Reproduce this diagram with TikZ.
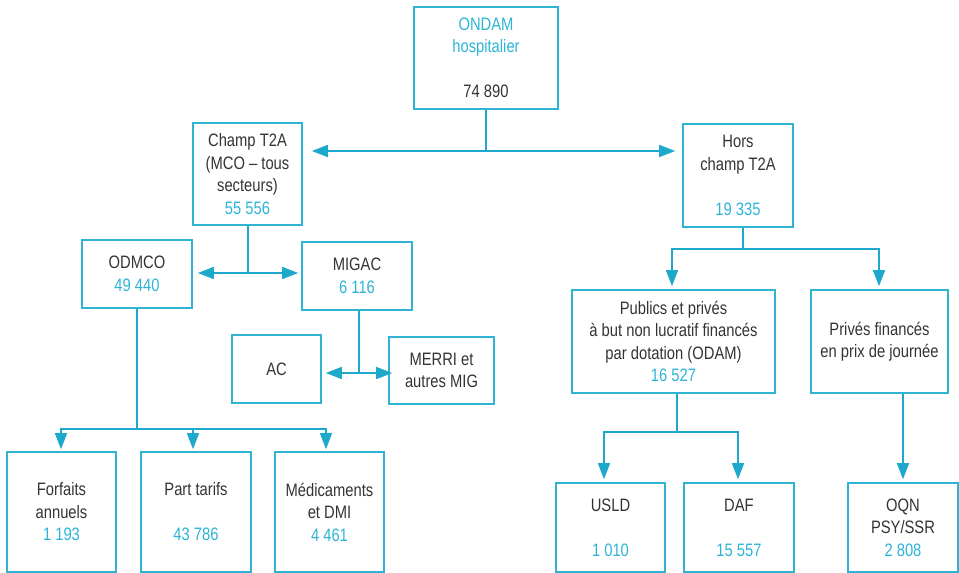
\documentclass[tikz,border=0pt]{standalone}
\usepackage{fontspec}
\setmainfont{Liberation Sans}[FakeStretch=0.82]
\usetikzlibrary{arrows.meta}
\definecolor{cy}{HTML}{2FB3D3}
\definecolor{ln}{HTML}{1DA9CB}
\definecolor{num}{HTML}{2BB4D6}
\definecolor{txt}{HTML}{333333}
\tikzset{
  box/.style={draw=cy, line width=1.6pt, rectangle, align=center, inner sep=0pt,
    text=txt, font=\fontsize{18pt}{22.5pt}\selectfont},
  conn/.style={draw=ln, line width=1.4pt},
  arr/.style={conn, -{Triangle[length=16pt,width=12pt]}},
  dblarr/.style={conn, {Triangle[length=16pt,width=12pt]}-{Triangle[length=16pt,width=12pt]}}
}
\newcommand{\nb}[1]{{\color{num}#1}}
\begin{document}
\begin{tikzpicture}[x=1pt,y=-1pt]
\useasboundingbox (0,0) rectangle (959,573);
% boxes
\node[box, minimum width=144pt, minimum height=102pt] (ondam) at (486,58)
  {\nb{ONDAM}\\\nb{hospitalier}\\[22.5pt]74 890};
\node[box, minimum width=109pt, minimum height=102pt] (champ) at (247.5,174)
  {Champ T2A\\(MCO – tous\\secteurs)\\\nb{55 556}};
\node[box, minimum width=110pt, minimum height=103pt] (hors) at (738,175.5)
  {Hors\\champ T2A\\[22.5pt]\nb{19 335}};
\node[box, minimum width=110pt, minimum height=68pt] (odmco) at (137,274)
  {ODMCO\\\nb{49 440}};
\node[box, minimum width=110pt, minimum height=68pt] (migac) at (357,276)
  {MIGAC\\\nb{6 116}};
\node[box, minimum width=89pt, minimum height=68pt] (ac) at (276.5,369)
  {AC};
\node[box, minimum width=105pt, minimum height=67pt] (merri) at (441.5,370.5)
  {MERRI et\\autres MIG};
\node[box, minimum width=109pt, minimum height=120pt] (forf) at (61.5,512)
  {Forfaits\\annuels\\\nb{1 193}};
\node[box, minimum width=110pt, minimum height=120pt] (part) at (196,512)
  {Part tarifs\\[22.5pt]\nb{43 786}};
\node[box, minimum width=109pt, minimum height=120pt] (medic) at (329.5,512)
  {Médicaments\\et DMI\\\nb{4 461}};
\node[box, minimum width=203pt, minimum height=103pt] (publics) at (673.5,341.5)
  {Publics et privés\\à but non lucratif financés\\par dotation (ODAM)\\\nb{16 527}};
\node[box, minimum width=137pt, minimum height=103pt] (prives) at (879.5,341.5)
  {Privés financés\\en prix de journée};
\node[box, minimum width=109pt, minimum height=89pt] (usld) at (610.5,527.5)
  {USLD\\[22.5pt]\nb{1 010}};
\node[box, minimum width=110pt, minimum height=89pt] (daf) at (739,527.5)
  {DAF\\[22.5pt]\nb{15 557}};
\node[box, minimum width=110pt, minimum height=89pt] (oqn) at (903,527.5)
  {OQN\\PSY/SSR\\\nb{2 808}};
% junctions
\coordinate (j1) at (486,151);
\coordinate (j2) at (248,273);
\coordinate (j3) at (359,373);
\coordinate (j4) at (137,429);
\coordinate (j5) at (743,249);
\coordinate (j6) at (677,432);
% connectors
\draw[conn] (ondam.south) -- (j1);
\draw[arr, shorten >=9pt] (j1) -- (champ.east |- j1);
\draw[arr, shorten >=7pt] (j1) -- (hors.west |- j1);

\draw[conn] (champ.south -| j2) -- (j2);
\draw[arr, shorten >=5pt] (j2) -- (odmco.east |- j2);
\draw[arr, shorten >=3pt] (j2) -- (migac.west |- j2);

\draw[conn] (migac.south -| j3) -- (j3);
\draw[arr, shorten >=4pt] (j3) -- (ac.east |- j3);
\draw[arr, shorten >=-4pt] (j3) -- (merri.west |- j3);

\draw[conn] (odmco.south) -- (j4);
\draw[arr, shorten >=2pt] (j4) -| ([xshift=-0.5pt]forf.north);
\draw[arr, shorten >=2pt] (j4) -| ([xshift=-3pt]part.north);
\draw[arr, shorten >=2pt] (j4) -| ([xshift=-3.5pt]medic.north);

\draw[conn] (hors.south -| j5) -- (j5);
\draw[arr, shorten >=3pt] (j5) -| ([xshift=-1.5pt]publics.north);
\draw[arr, shorten >=3pt] (j5) -| ([xshift=-0.5pt]prives.north);

\draw[conn] (publics.south -| j6) -- (j6);
\draw[arr, shorten >=3pt] (j6) -| ([xshift=-6.5pt]usld.north);
\draw[arr, shorten >=3pt] (j6) -| ([xshift=-1pt]daf.north);

\draw[arr, shorten >=3pt] (prives.south -| oqn.north) -- (oqn.north);
\end{tikzpicture}
\end{document}
